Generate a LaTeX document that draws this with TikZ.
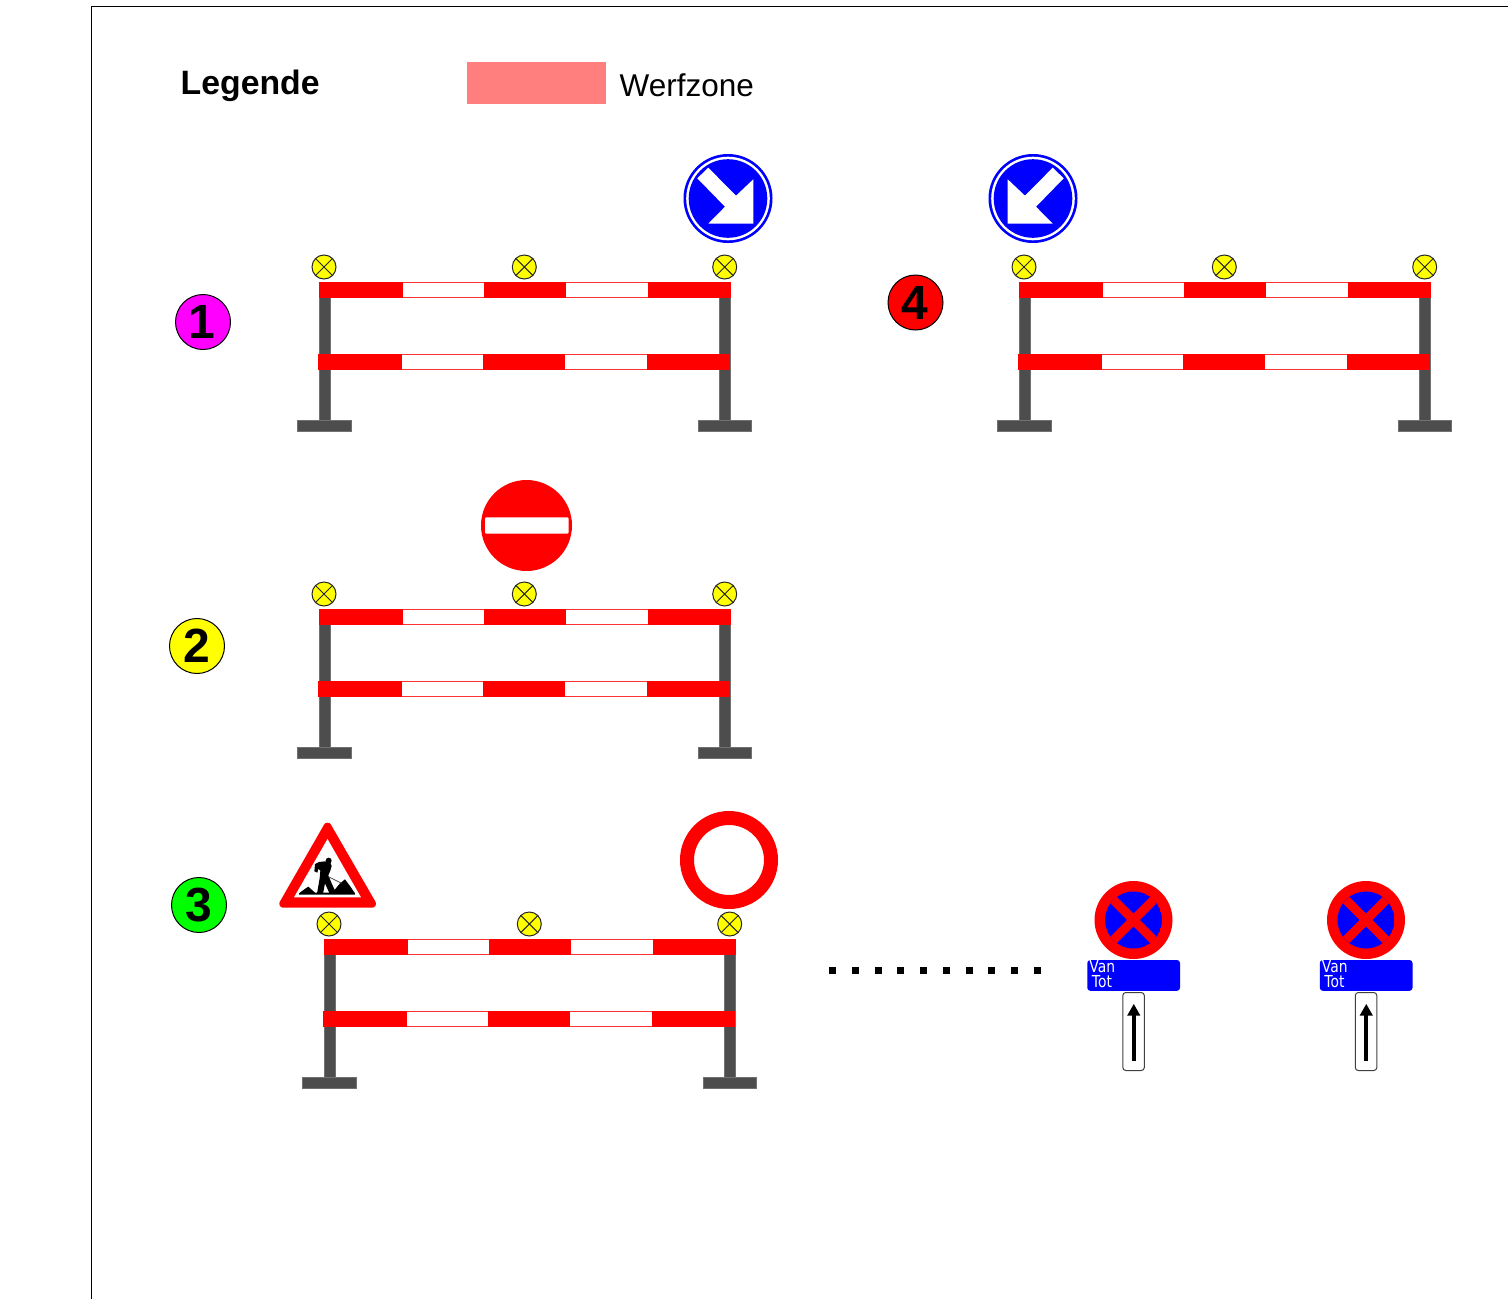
\documentclass[tikz,border=0pt]{standalone}
\usepackage{fontspec}
\setmainfont{Liberation Sans}
\newfontfamily\platefont{DejaVu Sans}
\definecolor{postgrey}{HTML}{4D4D4D}
\definecolor{zonepink}{HTML}{FF7F7F}
\definecolor{signblue}{HTML}{0000FF}
\definecolor{signred}{HTML}{FF0000}
\definecolor{lampyellow}{HTML}{FFFF00}
\definecolor{markgreen}{HTML}{00FF00}
\definecolor{markmagenta}{HTML}{FF00FF}
\tikzset{
  x=1pt,y=-1pt,
  post/.style={fill=postgrey,draw=postgrey!80,line width=.4pt},
  barwhite/.style={fill=white,draw=signred!80,line width=1pt},
  barred/.style={fill=signred,draw=none},
  lamp/.style={circle,draw=black!85,fill=lampyellow,line width=1pt,minimum size=24pt,inner sep=0pt},
  numbermark/.style={circle,draw=black,line width=1pt,minimum size=55pt,inner sep=0pt,font=\fontsize{48}{48}\selectfont\bfseries},
  bluesign/.style={fill=signblue,draw=none},
  whiteshape/.style={fill=white,draw=none},
  platetext/.style={text=white,inner sep=0pt,anchor=base west,font=\platefont\fontsize{16.5}{16.5}\selectfont,xscale=.84,transform shape},
}
\newcommand{\lampsym}[3]{%
  \node[lamp] (#1) at (#2,#3) {};
  \draw[black!85,line width=1pt] (#1.north west)--(#1.south east) (#1.north east)--(#1.south west);
}
\newcommand{\barsegs}[2]{% left x, top y
  \begin{scope}[shift={(#1,#2)}]
    \path[barwhite] (0,.5) rectangle (411.5,15.5);
    \path[barred] (0,0) rectangle (84,16);
    \path[barred] (165,0) rectangle (247,16);
    \path[barred] (329,0) rectangle (411.5,16);
  \end{scope}
}
\newcommand{\barrier}[3]{%
  \begin{scope}[shift={(#2,#3)}]
    \path[post] (319,297) rectangle (330,421);
    \path[post] (719,297) rectangle (730,421);
    \path[post] (297.3,420.5) rectangle (351,431.3);
    \path[post] (697.9,420.5) rectangle (751,431.3);
    \barsegs{319}{282}
    \barsegs{318}{353.7}
    \lampsym{#1a}{324}{267}
    \lampsym{#1b}{524.3}{267}
    \lampsym{#1c}{724.7}{267}
  \end{scope}
}
\newcommand{\clearway}[2]{%
  \begin{scope}[shift={(#2,0)}]
    \node[circle,fill=signred,minimum size=78pt,inner sep=0pt] (#1sign) at (1133.5,920) {};
    \begin{scope}
      \clip (1133.5,920) circle[radius=28.5];
      \fill[signblue] (1133.5,920) circle[radius=28.5];
      \draw[signred,line width=9pt] (1110,896.5)--(1157,943.5) (1157,896.5)--(1110,943.5);
    \end{scope}
    \path[bluesign,rounded corners=3pt] (1087.3,960) rectangle (1180,990.8);
    \node[platetext] (#1van) at (1089.3,972.5) {Van};
    \node[platetext] (#1tot) at (1091.8,987) {Tot};
    \draw[black!75,fill=white,line width=1pt,rounded corners=3pt] (1122.8,992.5) rectangle (1144.3,1070.5);
    \fill[black] (1131.9,1013) rectangle (1135.5,1060.5);
    \fill[black] (1133.8,1004) -- (1140.3,1015.5) -- (1127.2,1015.5) -- cycle;
  \end{scope}
}
\begin{document}
\begin{tikzpicture}
\useasboundingbox (0,0) rectangle (1508,1299);
\draw[black,line width=1.1pt] (91.8,1299) -- (91.8,6.5) -- (1508,6.5);
% legend
\node[anchor=base west,inner sep=0pt,font=\fontsize{33.8}{34}\selectfont\bfseries] (legende) at (180.5,94) {Legende};
\fill[zonepink] (467,62) rectangle (606,104);
\node[anchor=base west,inner sep=0pt,font=\fontsize{31.5}{32}\selectfont] (werfzone) at (619.5,96) {Werfzone};
% number marks
\node[numbermark,fill=markmagenta] (m1) at (203,322) {\kern-2pt 1};
\node[numbermark,fill=lampyellow] (m2) at (197,646) {2};
\node[numbermark,fill=markgreen] (m3) at (199,905) {3};
\node[numbermark,fill=signred] (m4) at (915.5,302.5) {\kern-2pt 4};
% barriers
\barrier{A}{0}{0}
\barrier{B}{0}{327}
\barrier{C}{5}{657}
\barrier{D}{700}{0}
% keep right sign
\begin{scope}[shift={(728,198.5)}]
  \fill[signblue] (0,0) circle[radius=44.5];
  \fill[white] (0,0) circle[radius=41.8];
  \fill[signblue] (0,0) circle[radius=39.3];
  \fill[white] (-19.7,-30.8) -- (-30.7,-20.2) -- (-3,8.2) -- (-19.7,25.2) -- (25.3,25.2) -- (25.3,-19.2) -- (8,-2.8) -- cycle;
\end{scope}
% keep left sign
\begin{scope}[shift={(1033,198.5)}]
  \fill[signblue] (0,0) circle[radius=44.5];
  \fill[white] (0,0) circle[radius=41.8];
  \fill[signblue] (0,0) circle[radius=39.3];
  \fill[white] (19.7,-30.8) -- (30.7,-20.2) -- (3,8.2) -- (19.7,25.2) -- (-25.3,25.2) -- (-25.3,-19.2) -- (-8,-2.8) -- cycle;
\end{scope}
% no entry
\fill[signred] (526.5,525.5) circle[radius=45.5];
\path[whiteshape,rounded corners=1pt] (485,517.3) rectangle (568.5,533.5);
% closed ring
\draw[signred,line width=14pt] (729,860) circle[radius=42];
% road works
\path[fill=signred,draw=signred,line width=8pt,line join=round] (327.5,826.7) -- (372,903.7) -- (283.3,903.7) -- cycle;
\fill[white] (327.5,839) -- (361,897.3) -- (294,897.3) -- cycle;
\begin{scope}[shift={(295,850)},x=.3333pt,y=-.3333pt]
  \fill[black] (101,32) circle[radius=9];
  \fill[black] (60,42) -- (72,36) -- (90,34) -- (106,38) -- (110,48) -- (106,62) -- (100,76) -- (110,100) -- (122,126) -- (124,131) -- (104,131) -- (90,100) -- (84,131) -- (66,131) -- (74,85) -- (76,62) -- (70,56) -- (67,68) -- (58,64) -- cycle;
  \fill[black] (12,130) -- (28,118) -- (40,110) -- (60,128) -- (112,128) -- (135,100) -- (150,88) -- (165,108) -- (180,130) -- (180,134) -- (12,134) -- cycle;
  \draw[black!70,line width=.7pt] (100,80) -- (140,100);
\end{scope}
% parking signs
\clearway{P}{0}
\clearway{Q}{232.5}
% dots
\coordinate (dotsa) at (829.3,970.7);
\coordinate (dotsb) at (1042,970.7);
\draw[black,line width=7pt,dash pattern=on 7pt off 15.7pt] (dotsa) -- (dotsb);
\end{tikzpicture}
\end{document}
